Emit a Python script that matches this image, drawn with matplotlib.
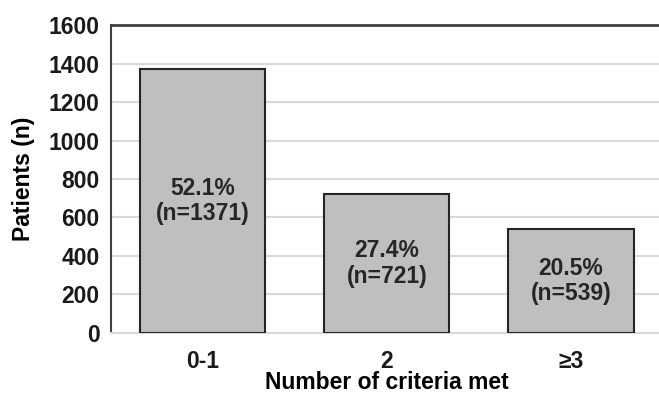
import matplotlib.pyplot as plt

categories = ['0-1', '2', '≥3']
patients = [1371, 721, 539]
percents = ['52.1%', '27.4%', '20.5%']

plt.rcParams['font.family'] = ['Liberation Sans', 'DejaVu Sans']

fig = plt.figure(figsize=(6.59, 3.93), dpi=100)
ax = fig.add_axes([0.168, 0.153, 0.838, 0.783])

x = range(len(categories))
ax.bar(x, patients, width=0.68, color='#bfbfbf', edgecolor='#262626',
       linewidth=1.5, zorder=3)

for i, (n, p) in enumerate(zip(patients, percents)):
    ax.text(i, n / 2, f'{p}\n(n={n})', ha='center', va='center',
            fontsize=16.5, fontweight='bold', color='#262626',
            linespacing=1.15, zorder=4)

ax.set_xlim(-0.5, 2.5)
ax.set_ylim(0, 1600)
ax.set_yticks(range(0, 1601, 200))
ax.set_xticks(list(x))
ax.set_xticklabels(categories)
ax.yaxis.grid(True, color='#d9d9d9', linewidth=1.5, zorder=0)
ax.set_axisbelow(True)

ax.spines['top'].set_color('#404040')
ax.spines['top'].set_linewidth(2)
ax.spines['left'].set_color('#404040')
ax.spines['left'].set_linewidth(1.5)
ax.spines['bottom'].set_color('#d9d9d9')
ax.spines['bottom'].set_linewidth(1.5)
ax.spines['right'].set_visible(False)

ax.tick_params(length=0, labelsize=16.5, colors='#1a1a1a', pad=8)
for lab in ax.get_xticklabels() + ax.get_yticklabels():
    lab.set_fontweight('bold')
ax.tick_params(axis='x', pad=12)

ax.set_xlabel('Number of criteria met', fontsize=16.5, fontweight='bold',
              labelpad=-1)
ax.set_ylabel('Patients (n)', fontsize=16.5, fontweight='bold', labelpad=10)

fig.savefig('out.png', dpi=100)
